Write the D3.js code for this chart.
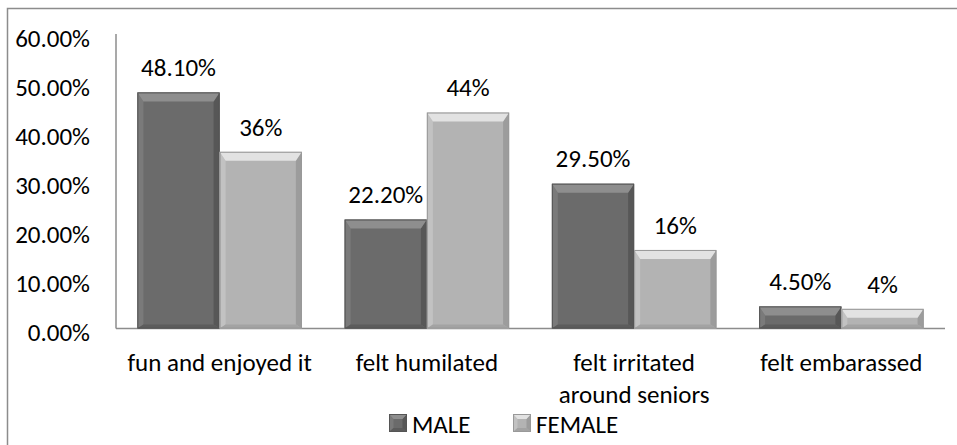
<!DOCTYPE html>
<html>
<head>
<meta charset="utf-8">
<script src="https://cdn.jsdelivr.net/npm/d3@7"></script>
<style>
  body { margin: 0; background: #fff; }
  text { font-family: Carlito, Calibri, Lato, sans-serif; fill: #000; }
</style>
</head>
<body>
<div id="chart"></div>
<script>
let width = 957,
height = 445;

// data
const categories = ["fun and enjoyed it", "felt humilated", "felt irritated\naround seniors", "felt embarassed"];
const series = ["MALE", "FEMALE"];
const male = [48.1, 22.2, 29.5, 4.5];
const female = [36, 44, 16, 4];
const maleLabels = ["48.10%", "22.20%", "29.50%", "4.50%"];
const femaleLabels = ["36%", "44%", "16%", "4%"];
const yTicks = [0, 10, 20, 30, 40, 50, 60];

const fontSize = 25;
let margin = {left: 116, right: 12, top: 34, bottom: 117};

let svg = d3.select("#chart")
.append("svg")
.attr("width", width)
.attr("height", height);

// outer chart frame (runs past the picture edge)
svg.append("rect")
.attr("x", 7.5).attr("y", 8.5)
.attr("width", width + 20).attr("height", height + 20)
.attr("fill", "none")
.attr("stroke", "#8c8c8c")
.attr("stroke-width", 1.5);

let x = d3.scaleBand()
.domain(categories)
.range([margin.left, width - margin.right])
.paddingInner(0)
.paddingOuter(0);

let xInner = d3.scaleBand()
.domain(series)
.range([0, x.bandwidth()])
.paddingOuter(0.26)   // gap width ~70%
.paddingInner(0);

let y = d3.scaleLinear()
.domain([0, 60])
.range([height - margin.bottom + 0.5, margin.top]);

// axes lines
svg.append("line")
.attr("x1", margin.left).attr("x2", margin.left)
.attr("y1", y(60)).attr("y2", y(0))
.attr("stroke", "#8c8c8c").attr("stroke-width", 1.5);
svg.append("line")
.attr("x1", margin.left).attr("x2", width - margin.right)
.attr("y1", y(0)).attr("y2", y(0))
.attr("stroke", "#8c8c8c").attr("stroke-width", 1.5);

// y tick labels
svg.append("g")
.selectAll("text")
.data(yTicks)
.join("text")
.attr("x", 90)
.attr("y", d => y(d) + 4)
.attr("dy", "0.35em")
.attr("text-anchor", "end")
.style("font-size", fontSize + "px")
.text(d => d.toFixed(2) + "%");

// category labels
svg.append("g")
.selectAll("text")
.data(categories)
.join("text")
.attr("x", d => x(d) + x.bandwidth() / 2)
.attr("y", y(0) + 34)
.attr("text-anchor", "middle")
.style("font-size", fontSize + "px")
.each(function (d) {
    d3.select(this).selectAll("tspan")
    .data(d.split("\n"))
    .join("tspan")
    .attr("x", x(d) + x.bandwidth() / 2)
    .attr("dy", (t, i) => i === 0 ? "0.35em" : "1.28em")
    .text(t => t);
});

const styles = {
    MALE:   {face: "#6b6b6b", top: "#8e8e8e", bottom: "#5c5c5c", left: "#7a7a7a", right: "#575757", edge: "#555"},
    FEMALE: {face: "#b3b3b3", top: "#e2e2e2", bottom: "#a3a3a3", left: "#c2c2c2", right: "#9c9c9c", edge: "#999"}
};

// beveled bar: face plus four trapezoids
function bevelBar(g, x0, x1, y0, y1, st, bv) {
    let b = Math.min(bv || 9, (y1 - y0) / 2);
    let s = Math.min(6, (x1 - x0) / 4);
    let bb = Math.min(4, b);
    let pts = {
        top: [[x0, y0], [x1, y0], [x1 - s, y0 + b], [x0 + s, y0 + b]],
        bottom: [[x0, y1], [x1, y1], [x1 - s, y1 - bb], [x0 + s, y1 - bb]],
        left: [[x0, y0], [x0 + s, y0 + b], [x0 + s, y1 - bb], [x0, y1]],
        right: [[x1, y0], [x1 - s, y0 + b], [x1 - s, y1 - bb], [x1, y1]]
    };
    g.append("rect").attr("x", x0).attr("y", y0).attr("width", x1 - x0).attr("height", y1 - y0).attr("fill", st.face);
    ["left", "right", "bottom", "top"].forEach(k => {
        g.append("polygon").attr("points", pts[k].map(p => p.join(",")).join(" ")).attr("fill", st[k]);
    });
    g.append("rect").attr("x", x0 + 0.5).attr("y", y0 + 0.5).attr("width", x1 - x0 - 1).attr("height", y1 - y0 - 1)
    .attr("fill", "none").attr("stroke", st.edge).attr("stroke-width", 1);
}

const values = {MALE: male, FEMALE: female};
const labels = {MALE: maleLabels, FEMALE: femaleLabels};

let bars = svg.append("g");
categories.forEach((c, i) => {
    series.forEach(s => {
        let x0 = x(c) + xInner(s);
        let x1 = x0 + xInner.bandwidth();
        bevelBar(bars, x0, x1, y(values[s][i]), y(0), styles[s]);
        bars.append("text")
        .attr("x", (x0 + x1) / 2)
        .attr("y", y(values[s][i]) - 25)
        .attr("dy", "0.35em")
        .attr("text-anchor", "middle")
        .style("font-size", fontSize + "px")
        .text(labels[s][i]);
    });
});

// legend
let legend = svg.append("g");
let lx = [389, 513];
series.forEach((s, i) => {
    let g = legend.append("g");
    bevelBar(g, lx[i], lx[i] + 18, 414, 432, styles[s], 5);
    g.append("text")
    .attr("x", lx[i] + 23)
    .attr("y", 424)
    .attr("dy", "0.35em")
    .style("font-size", fontSize + "px")
    .text(s);
});
</script>
</body>
</html>
